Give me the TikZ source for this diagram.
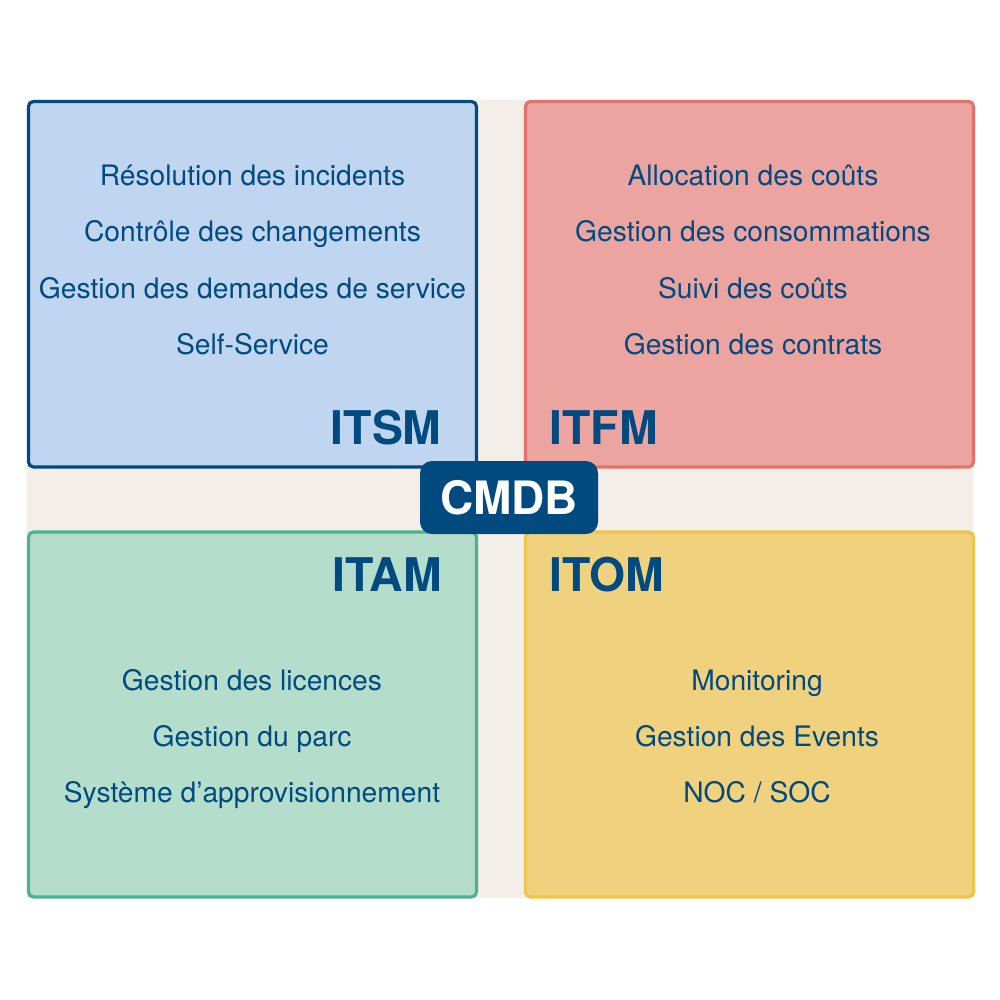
\documentclass[tikz,border=0pt]{standalone}
\usepackage{fontspec}
\setmainfont{TeX Gyre Heros}
\definecolor{navy}{HTML}{004A80}
\definecolor{beige}{HTML}{F3EEE8}
\definecolor{bluefill}{HTML}{BFD5F0}
\definecolor{redline}{HTML}{E8706A}
\definecolor{redfill}{HTML}{ECA4A0}
\definecolor{greenline}{HTML}{4DB38F}
\definecolor{greenfill}{HTML}{B5DDCC}
\definecolor{yellowline}{HTML}{F0C44A}
\definecolor{yellowfill}{HTML}{F0D27E}
\begin{document}
\begin{tikzpicture}[x=0.5pt,y=-0.5pt,
  quad/.style={line width=1.6pt, rounded corners=2.5pt},
  item/.style={text=navy, font=\fontsize{14.1}{16}\selectfont, inner sep=0pt, anchor=base},
  title/.style={text=navy, font=\fontsize{23.2}{26}\selectfont\bfseries, inner sep=0pt},
  hub/.style={fill=navy, text=white, font=\fontsize{23}{26}\selectfont\bfseries, rounded corners=6pt, minimum width=89pt, minimum height=36.5pt, inner sep=0pt}]
\useasboundingbox (0,0) rectangle (1000,1000);
\fill[beige] (27,100) rectangle (973,898);
\draw[quad, draw=navy, fill=bluefill] (28.5,101.5) rectangle (476.5,467);
\draw[quad, draw=redline, fill=redfill] (525.5,101.5) rectangle (973.5,467);
\draw[quad, draw=greenline, fill=greenfill] (28.5,532) rectangle (476.5,897);
\draw[quad, draw=yellowline, fill=yellowfill] (525.5,532) rectangle (973.5,897);
% ITSM
\node[item] (s1) at (252.5,186) {Résolution des incidents};
\node[item] (s2) at (252.5,242) {Contrôle des changements};
\node[item] (s3) at (252.5,298) {Gestion des demandes de service};
\node[item] (s4) at (252.5,354) {Self-Service};
\node[title, anchor=base east] (itsm) at (442,444) {ITSM};
% ITFM
\node[item] (f1) at (753,186) {Allocation des coûts};
\node[item] (f2) at (753,242) {Gestion des consommations};
\node[item] (f3) at (753,298) {Suivi des coûts};
\node[item] (f4) at (753,354) {Gestion des contrats};
\node[title, anchor=base west] (itfm) at (549,444) {ITFM};
% ITAM
\node[item] (a1) at (252,690) {Gestion des licences};
\node[item] (a2) at (252,746) {Gestion du parc};
\node[item] (a3) at (252,802) {Système d’approvisionnement};
\node[title, anchor=base east] (itam) at (442,591) {ITAM};
% ITOM
\node[item] (o1) at (757,690) {Monitoring};
\node[item] (o2) at (757,746) {Gestion des Events};
\node[item] (o3) at (757,802) {NOC / SOC};
\node[title, anchor=base west] (itom) at (549,591) {ITOM};
% CMDB
\node[hub] (cmdb) at (509,497.5) {CMDB};
\end{tikzpicture}
\end{document}
